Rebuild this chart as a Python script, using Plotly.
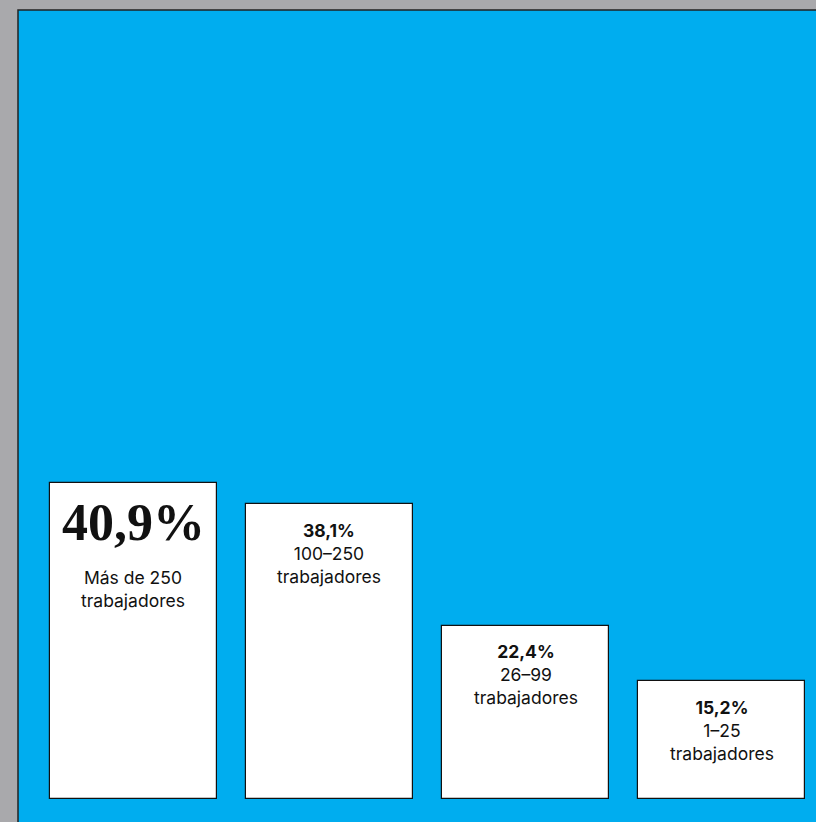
import plotly.graph_objects as go

categories = ["Más de 250", "100–250", "26–99", "1–25"]
values = [40.9, 38.1, 22.4, 15.2]
value_labels = ["40,9%", "38,1%", "22,4%", "15,2%"]
unit_label = "trabajadores"

BLUE = "#00adef"
GRAY = "#a9a9ac"
SANS = "Inter, 'Noto Sans', sans-serif"

x = list(range(len(categories)))

fig = go.Figure()
fig.add_trace(go.Bar(
    x=x, y=values, width=0.852,
    marker=dict(color="white", line=dict(color="#111111", width=1.2)),
    hoverinfo="skip",
))

annotations = []
for i, (cat, v, lab) in enumerate(zip(categories, values, value_labels)):
    if i == 0:
        annotations.append(dict(
            x=i, y=v, xref="x", yref="y", text=f"<b>{lab}</b>", showarrow=False,
            yanchor="middle", yshift=-40,
            font=dict(family="'Liberation Serif', 'DejaVu Serif', serif", size=52, color="#111111"),
        ))
        annotations.append(dict(
            x=i, y=v, xref="x", yref="y", text=f"{cat}<br>{unit_label}", showarrow=False,
            yanchor="middle", yshift=-106,
            font=dict(family=SANS, size=17.5, color="#111111"),
        ))
    else:
        annotations.append(dict(
            x=i, y=v, xref="x", yref="y",
            text=f"<b>{lab}</b><br>{cat}<br>{unit_label}", showarrow=False,
            yanchor="middle", yshift=-49,
            font=dict(family=SANS, size=17.5, color="#111111"),
        ))

fig.update_layout(
    width=816, height=822,
    margin=dict(l=18, r=0, t=10, b=0),
    paper_bgcolor=GRAY,
    plot_bgcolor=BLUE,
    showlegend=False,
    annotations=annotations,
    xaxis=dict(range=[-0.589, 3.482], visible=False, fixedrange=True),
    yaxis=dict(range=[-2.97, 102.03], visible=False, fixedrange=True),
    shapes=[dict(type="rect", xref="paper", yref="paper", x0=0, x1=1.02, y0=-0.02, y1=1,
                 line=dict(color="#222222", width=1.5), fillcolor="rgba(0,0,0,0)", layer="above")],
    bargap=0,
)

fig.write_html(
    "out.html",
    config={"displayModeBar": False},
    post_script="document.body.style.margin='0';document.body.style.background='%s';document.body.style.overflow='hidden';" % GRAY,
)
